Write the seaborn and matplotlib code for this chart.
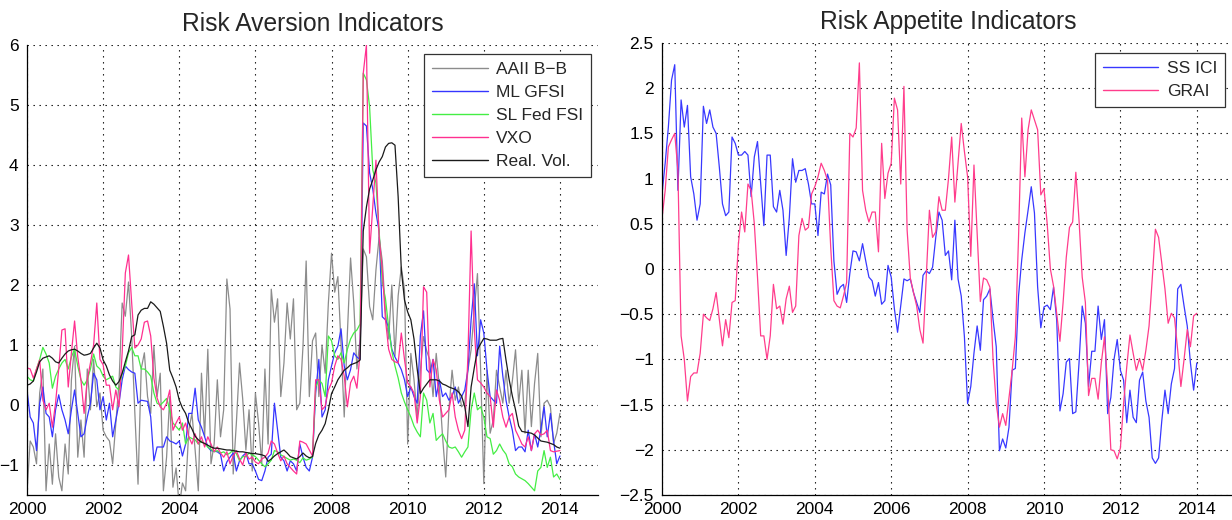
import numpy as np
import pandas as pd
import matplotlib
matplotlib.use("Agg")
import matplotlib.pyplot as plt
import seaborn as sns
from matplotlib.ticker import FuncFormatter

# ---------------- data (monthly, Jan 2000 .. Jan 2014) ----------------
months = pd.date_range("2000-01-01", periods=169, freq="MS")

aaii_bb = [
    -1.45, -.60, -.70, -.98, .20, .60, -1.43, -.65, -1.32, -.48, -1.20, -1.43,   # 2000
    -.65, -1.15, .42, .98, -.87, -.25, -.87, .60, -.08, .76, -.03, .20,          # 2001
    -.42, -.53, -.60, -.98, -.30, .37, 1.70, 1.48, 2.05, 1.15, -.14, -1.32,       # 2002
    .60, .87, .14, -.14, .98, .14, .53, -1.43, -.87, .14, -1.37, -1.05,           # 2003
    -1.70, -1.30, -1.43, -.42, -.14, -.75, -1.43, .53, -.53, .93, -.98, -.65,     # 2004
    .42, -.53, -.08, 2.10, 1.60, -1.15, -.30, .70, .10, -.75, -.08, -1.10,        # 2005
    .20, -.30, -.98, .60, -.65, 1.93, 1.38, 1.77, .14, .70, 1.70, 1.10,           # 2006
    1.77, -.08, .03, .98, 2.40, .14, 1.07, 1.20, .14, 1.00, .53, 1.70,            # 2007
    2.53, 1.88, 2.14, 1.00, -.20, 1.20, 2.45, 1.70, .60, 1.10, 2.60, 2.47,        # 2008
    1.64, 1.42, 2.25, 2.80, 2.40, 1.55, 1.10, 2.00, .82, 1.82, 2.30, 1.92,        # 2009
    -.65, .86, .42, -.20, .58, 1.14, .90, .75, .14, .86, .30, -.53,               # 2010
    -1.20, -.08, .58, .08, .30, -.03, .03, .58, .92, 1.58, 2.19, .58,             # 2011
    -1.31, .58, -.47, -.25, .58, .30, .03, .58, .03, .40, .92, .03,               # 2012
    .58, -.47, .58, -.36, .36, .86, -.53, .03, .08, -.03, -.64, -.47,             # 2013
    -.14]

ml_gfsi = [
    .25, -.20, -.30, -.76, .03, .30, -.14, -.20, -.53, -.08, .17, -.08,
    -.25, -.48, -.08, .25, -.14, -.53, -.48, -.20, .03, .53, .42, -.08,
    .14, -.25, .03, -.53, -.25, .03, .42, .65, .59, .55, .53, .03,
    .08, .07, .06, -.20, -.93, -.70, -.70, -.70, -.53, -.60, -.62, -.65,
    -.60, -.85, -.65, -.14, -.14, .28, -.25, -.37, -.53, -.70, -.76, -.77,
    -.78, -.82, -1.10, -.95, -.87, -.80, -1.10, -.93, -.85, -.80, -.98, -.98,
    -1.10, -1.24, -1.26, -1.10, -.87, -.82, .03, -.42, -.87, -.93, -1.10, -.93,
    -.98, -1.10, -.65, -.87, -1.04, -1.10, -.87, .20, .76, -.20, -.08, .42,
    .65, .87, .98, 1.27, .65, .42, .59, .87, .80, .76, 4.70, 4.65,
    3.87, 3.60, 3.20, 2.90, 1.47, 1.42, 1.30, .93, .80, .70, .59, .42,
    .14, .30, .14, .03, 1.15, 1.57, .59, .53, .76, .14, .42, .14,
    .20, .08, .15, .30, .03, .14, .25, .59, 1.42, 2.02, .82, 1.42,
    1.20, .59, .14, .08, .03, .98, .48, .08, -.20, -.42, -.76, -.70,
    -.70, -.78, -.42, -.76, -.48, -.70, -.40, -.03, -.53, -.14, -.60, -.98,
    -.85]

sl_fed_fsi = [
    .48, .42, .40, .60, .76, .96, .85, .70, .28, .48, .60, .70,
    .76, .60, .80, .93, .65, .42, .33, .42, .60, .85, .65, .60,
    .48, .42, .45, .48, .30, .25, .53, .65, .87, .96, .82, .82,
    .60, .60, .55, .48, .20, .03, .00, .05, .11, -.08, -.30, -.36,
    -.42, -.30, -.65, -.53, -.56, -.58, -.65, -.60, -.65, -.70, -.74, -.78,
    -.76, -.80, -.78, -.83, -.80, -.75, -.81, -.93, -.86, -.86, -.80, -.83,
    -.86, -.92, -.98, -1.03, -.98, -.92, -.76, -.78, -.83, -.86, -.89, -.92,
    -.90, -.92, -.96, -.88, -.92, -.90, -.87, .30, .42, .36, .14, 1.15,
    1.07, .82, .76, .87, .70, .93, 1.10, 1.20, 1.25, 1.35, 5.53, 5.42,
    4.97, 3.92, 3.70, 2.90, 2.05, 1.77, 1.30, .90, .65, .45, .20, .05,
    -.08, -.20, -.35, -.45, -.53, .20, .08, -.30, -.14, -.59, -.53, -.48,
    -.60, -.70, -.72, -.70, -.78, -.87, -.78, -.70, -.08, .20, -.08, -.03,
    -.20, -.53, -.56, -.82, -.76, -.65, -.75, -.82, -.98, -1.03, -1.15, -1.20,
    -1.23, -1.26, -1.31, -1.37, -1.43, -1.10, -1.04, -.76, -1.04, -.87, -1.20, -1.15,
    -1.24]

vxo = [
    .62, .60, .45, .60, .75, .08, -.08, .03, -.37, .03, .60, 1.25,
    1.27, .30, .87, 1.40, .80, .42, -.14, .42, .70, 1.00, 1.70, .76,
    .67, .33, .33, -.08, .25, -.03, .87, 2.20, 2.50, 1.70, .95, 1.00,
    1.10, 1.38, 1.40, 1.15, .45, .12, -.03, -.08, .03, .25, -.42, -.30,
    -.20, -.42, -.30, -.53, -.65, -.48, -.65, -.53, -.70, -.53, -.65, -.78,
    -.70, -.80, -.87, -.78, -.98, -.85, -.76, -.90, -1.00, -.80, -.90, -.87,
    -.95, -.98, -.90, -.87, -.80, -.60, -.65, -.80, -.93, -.85, -.98, -1.04,
    -1.10, -1.15, -.60, -.62, -.65, -.75, -.85, .42, .42, -.08, -.02, .25,
    .37, .65, .82, .76, .48, -.03, .37, .48, .28, .87, 5.53, 6.00,
    2.53, 3.30, 4.08, 2.80, 2.25, 1.42, .93, .76, .72, .70, 1.20, .76,
    .37, .30, .20, -.30, .14, 1.97, 1.88, .30, .76, .59, .08, -.20,
    -.14, -.08, .20, -.20, -.42, -.56, -.42, .82, 2.90, 1.27, .42, .37,
    .30, .20, .14, -.37, .25, .08, -.20, -.37, -.20, -.14, -.42, -.53,
    -.65, -.70, -.53, -.76, -.48, -.42, -.50, -.48, -.42, -.76, -.78, -.77,
    -.76]

real_vol = [
    .33, .35, .40, .55, .72, .78, .80, .82, .78, .72, .70, .78,
    .85, .90, .92, .93, .90, .86, .83, .84, .86, .95, 1.03, .95,
    .75, .65, .50, .40, .33, .39, .53, .72, .90, 1.14, 1.17, 1.50,
    1.58, 1.61, 1.61, 1.72, 1.68, 1.62, 1.56, 1.31, 1.03, .58, .45, .30,
    .08, -.05, -.14, -.30, -.40, -.52, -.58, -.62, -.64, -.67, -.70, -.72,
    -.72, -.73, -.74, -.75, -.75, -.76, -.77, -.78, -.78, -.79, -.80, -.81,
    -.81, -.82, -.83, -.85, -.94, -.90, -.85, -.81, -.78, -.75, -.80, -.86,
    -.88, -.90, -.86, -.80, -.85, -.88, -.86, -.64, -.50, -.42, -.31, -.08,
    .19, .30, .42, .50, .58, .62, .67, .69, .71, .75, 2.90, 3.30,
    3.60, 3.75, 3.92, 4.05, 4.14, 4.30, 4.36, 4.37, 4.33, 3.47, 2.25, 1.75,
    1.55, 1.42, 1.10, .60, .19, .28, .35, .42, .42, .42, .40, .35,
    .33, .30, .28, .26, .22, .15, -.03, -.36, .30, .62, .92, 1.02,
    1.11, 1.10, 1.08, 1.08, 1.08, 1.10, 1.11, .75, .42, .15, -.08, -.35,
    -.44, -.45, -.46, -.47, -.50, -.55, -.60, -.61, -.62, -.64, -.66, -.70,
    -.72]

ss_ici = [
    .83, 1.17, 1.57, 2.09, 2.26, .87, 1.87, 1.57, 1.81, 1.02, .83, .54,
    .72, 1.80, 1.61, 1.76, 1.57, 1.50, 1.13, .72, .59, .63, 1.46, 1.39,
    1.26, 1.26, 1.30, 1.26, .80, 1.24, 1.41, .94, .48, 1.26, 1.26, .69,
    .63, .87, .65, .15, .57, 1.22, .96, 1.09, 1.09, 1.11, .94, .72,
    .72, .37, .85, .83, 1.05, .93, .09, -.28, -.20, -.17, -.37, -.05,
    .20, .19, .09, .28, .09, -.09, -.13, -.30, -.15, -.39, -.35, .04,
    -.09, -.44, -.70, -.41, -.11, -.13, -.11, -.26, -.37, -.48, -.07, -.02,
    -.05, .02, .35, .63, .54, .15, .20, -.12, .54, -.11, -.30, -.75,
    -1.49, -1.30, -.93, -.63, -.90, -.34, -.30, -.22, -.56, -.86, -2.01, -1.88,
    -1.98, -1.75, -1.12, -1.10, -.30, .10, .40, .65, .91, .62, -.20, -.65,
    -.42, -.40, -.45, -.20, -.57, -1.57, -1.38, -1.03, -.99, -1.60, -1.58, -1.04,
    -.41, -.60, -1.30, -.91, -.91, -.41, -.78, -.56, -1.60, -1.42, -1.00, -.78,
    -1.12, -1.23, -1.70, -1.34, -1.64, -1.70, -1.23, -1.14, -1.46, -1.64, -2.09, -2.15,
    -2.09, -1.68, -1.34, -1.60, -1.27, -1.10, -.22, -.17, -.41, -.63, -1.04, -1.34,
    -1.04]

grai = [
    .56, .87, 1.35, 1.43, 1.50, 1.09, -.74, -1.00, -1.46, -1.19, -1.15, -1.15,
    -.93, -.50, -.54, -.57, -.44, -.26, -.56, -.85, -.56, -.76, -.37, -.35,
    .28, .63, .41, .94, .87, .50, -.09, -.74, -.74, -1.00, -.74, -.17,
    -.44, -.41, -.61, -.33, -.19, -.48, -.41, .37, .56, .43, .46, .83,
    .91, 1.02, 1.17, 1.09, .98, .24, -.35, -.41, -.43, -.30, -.15, 1.50,
    1.46, 1.56, 2.28, .87, .65, .52, .63, .63, .19, 1.39, .78, 1.06,
    1.17, 1.89, 1.76, .94, 2.02, .43, -.10, -.26, -.41, -.67, -.82, -.10,
    .65, .35, .41, .80, .65, .65, 1.00, 1.46, .74, 1.17, 1.61, 1.30,
    1.02, .14, 1.15, .40, -.36, -.10, -.12, -.20, -1.00, -1.49, -1.75, -1.60,
    -1.73, -1.42, -1.12, -.75, .35, 1.67, 1.02, 1.54, 1.76, 1.65, 1.54, .82,
    .89, .50, .00, -.19, -.49, -.80, -.37, .13, .46, .52, 1.07, .54,
    -.09, -.37, -1.40, -1.21, -1.21, -1.44, -1.04, -.75, -1.30, -2.00, -2.01, -2.10,
    -1.98, -1.49, -1.08, -.73, -.93, -1.12, -.99, -1.12, -.90, -.63, -.11, .44,
    .35, .06, -.22, -.60, -.49, -.54, -.90, -1.30, -1.00, -.67, -.86, -.52,
    -.49]

left_names = ["AAII B\u2212B", "ML GFSI", "SL Fed FSI", "VXO", "Real. Vol."]
left_series = [aaii_bb, ml_gfsi, sl_fed_fsi, vxo, real_vol]
left_colors = ["#8c8c8c", "#3535ff", "#44ee44", "#ff3090", "#1a1a1a"]

right_names = ["SS ICI", "GRAI"]
right_series = [ss_ici, grai]
right_colors = ["#3838ff", "#ff3d8c"]

x_ticks = [2000, 2002, 2004, 2006, 2008, 2010, 2012, 2014]
left_yticks = [-1, 0, 1, 2, 3, 4, 5, 6]
right_yticks = [-2.5, -2, -1.5, -1, -0.5, 0, 0.5, 1, 1.5, 2, 2.5]

# ---------------- build tables ----------------
year_frac = months.year + (months.month - 1) / 12.0


def long_table(names, series):
    frames = []
    for n, s in zip(names, series):
        frames.append(pd.DataFrame({"year": year_frac, "value": s, "series": n}))
    return pd.concat(frames, ignore_index=True)


df_left = long_table(left_names, left_series)
df_right = long_table(right_names, right_series)

# ---------------- style ----------------
sns.set_theme(style="white")
plt.rcParams["font.family"] = ["Liberation Sans", "DejaVu Sans"]
plt.rcParams["axes.unicode_minus"] = True

fig = plt.figure(figsize=(12.32, 5.2), dpi=100)
ax1 = fig.add_axes([27 / 1232, 25 / 520, 571 / 1232, 450 / 520])
ax2 = fig.add_axes([662 / 1232, 25 / 520, 573 / 1232, 452 / 520])


def fmt(v, pos):
    s = f"{v:g}"
    return s.replace("-", "\u2212")


def style_axes(ax, yticks, ylim):
    ax.set_xlim(2000, 2015)
    ax.set_ylim(*ylim)
    ax.set_xticks(x_ticks)
    ax.set_yticks(yticks)
    ax.yaxis.set_major_formatter(FuncFormatter(fmt))
    ax.xaxis.set_major_formatter(FuncFormatter(lambda v, p: f"{int(v)}"))
    ax.grid(True, color="black", linewidth=0.8, linestyle=(0, (1.2, 4.2)))
    ax.set_axisbelow(True)
    for side in ["top", "right"]:
        ax.spines[side].set_visible(False)
    for side in ["left", "bottom"]:
        ax.spines[side].set_color("black")
        ax.spines[side].set_linewidth(0.9)
    ax.tick_params(axis="both", direction="in", length=4, width=0.8,
                   colors="black", labelsize=12.5, pad=5)
    ax.tick_params(axis="y", pad=6)
    ax.set_xlabel("")
    ax.set_ylabel("")
    ax.set_facecolor("white")


sns.lineplot(data=df_left, x="year", y="value", hue="series",
             hue_order=left_names, palette=left_colors, linewidth=0.9,
             estimator=None, sort=False, ax=ax1)
sns.lineplot(data=df_right, x="year", y="value", hue="series",
             hue_order=right_names, palette=right_colors, linewidth=0.9,
             estimator=None, sort=False, ax=ax2)

style_axes(ax1, left_yticks, (-1.5, 6))
style_axes(ax2, right_yticks, (-2.5, 2.5))

ax1.set_title("Risk Aversion Indicators", fontsize=17.7, pad=10)
ax2.set_title("Risk Appetite Indicators", fontsize=17.7, pad=10)

for ax, anchor in [(ax1, (0.988, 0.98)), (ax2, (0.9825, 0.978))]:
    h, l = ax.get_legend_handles_labels()
    leg = ax.legend(h, l, loc="upper right", bbox_to_anchor=anchor,
                    fontsize=12.5, frameon=True, fancybox=False,
                    edgecolor="#333333", framealpha=1, handlelength=3.2,
                    handletextpad=0.5, labelspacing=0.45, borderpad=0.45,
                    borderaxespad=0)
    leg.get_frame().set_linewidth(0.9)
    for line in leg.get_lines():
        line.set_linewidth(1.0)

fig.savefig("out.png", dpi=100, facecolor="white")
